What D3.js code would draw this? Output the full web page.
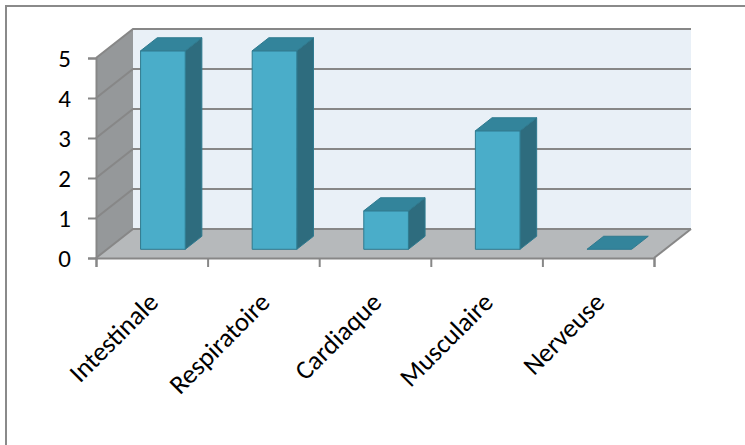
<!DOCTYPE html>
<html>
<head>
<meta charset="utf-8">
<script src="https://cdn.jsdelivr.net/npm/d3@7"></script>
<style>
  html, body { margin: 0; padding: 0; background: #ffffff; }
  svg { display: block; }
  text { font-family: Carlito, Calibri, Lato, sans-serif; fill: #000; }
</style>
</head>
<body>
<svg id="chart" width="745" height="445"></svg>
<script>
// Number of cases per category
const categories = ["Intestinale", "Respiratoire", "Cardiaque", "Musculaire", "Nerveuse"];
const values = [5, 5, 1, 3, 0];
const yTicks = [0, 1, 2, 3, 4, 5];

const svg = d3.select("#chart");

// Front plane of the 3D box and the depth offset to the back wall
const front = { left: 96, right: 654, bottom: 258, top: 58 };
const depthDX = 37, depthDY = -29;

const x = d3.scaleBand()
  .domain(categories)
  .range([front.left, front.right])
  .paddingInner(0.6)
  .paddingOuter(0.3);

const xEdge = d3.scaleLinear()
  .domain([0, categories.length])
  .range([front.left, front.right]);

const y = d3.scaleLinear()
  .domain([0, 5])
  .range([front.bottom, front.top]);

// project a point on the front plane back by a depth fraction d (0..1)
const P = (px, py, d) => [px + d * depthDX, py + d * depthDY];
const poly = pts => "M" + pts.map(p => p.join(",")).join("L") + "Z";

// outer frame
svg.append("rect")
  .attr("x", 6).attr("y", 6)
  .attr("width", 760).attr("height", 460)
  .attr("fill", "none")
  .attr("stroke", "#8a8a8a")
  .attr("stroke-width", 2);

const y0 = y(0), yMax = y(5);

// back wall
svg.append("path")
  .attr("d", poly([P(front.left, yMax, 1), P(front.right, yMax, 1), P(front.right, y0, 1), P(front.left, y0, 1)]))
  .attr("fill", "#e9f0f7");

// side wall
svg.append("path")
  .attr("d", poly([[front.left, yMax], P(front.left, yMax, 1), P(front.left, y0, 1), [front.left, y0]]))
  .attr("fill", "#95989a");

// floor
svg.append("path")
  .attr("d", poly([[front.left, y0], [front.right, y0], P(front.right, y0, 1), P(front.left, y0, 1)]))
  .attr("fill", "#b6b9bb");

// gridlines on side wall and back wall
const grid = svg.append("g")
  .attr("stroke", "#878787")
  .attr("stroke-width", 2)
  .attr("fill", "none");

yTicks.forEach(t => {
  const a = [front.left, y(t)], b = P(front.left, y(t), 1), c = P(front.right, y(t), 1);
  grid.append("path").attr("d", "M" + a + "L" + b + "L" + c);
});
// right edge of the floor
grid.append("path").attr("d", "M" + [front.right, y0] + "L" + P(front.right, y0, 1));

// y axis (front-left edge)
const yAxis = d3.axisLeft(y)
  .tickValues(yTicks)
  .tickSize(8)
  .tickPadding(17)
  .tickFormat(d3.format("d"));

const gy = svg.append("g")
  .attr("transform", `translate(${front.left},0)`)
  .call(yAxis);
gy.select(".domain").attr("stroke", "#878787").attr("stroke-width", 2);
gy.selectAll(".tick line").attr("stroke", "#878787").attr("stroke-width", 2);
gy.selectAll(".tick text")
  .attr("font-size", 25)
  .attr("font-family", "Carlito, Calibri, Lato, sans-serif")
  .attr("fill", "#000");

// x axis (front-bottom edge), ticks between categories
const xAxis = d3.axisBottom(xEdge)
  .tickValues(d3.range(categories.length + 1))
  .tickSize(9)
  .tickFormat("");
const gx = svg.append("g")
  .attr("transform", `translate(0,${y0})`)
  .call(xAxis);
gx.select(".domain").attr("stroke", "#878787").attr("stroke-width", 2);
gx.selectAll(".tick line").attr("stroke", "#878787").attr("stroke-width", 2);

// category labels, rotated
svg.append("g").selectAll("text")
  .data(categories)
  .join("text")
  .attr("transform", d => `translate(${x(d) + x.bandwidth() / 2 + 8},${y0 + 46}) rotate(-45)`)
  .attr("text-anchor", "end")
  .attr("font-size", 26.5)
  .text(d => d);

// 3D bars
const dFront = 0.3, dBack = 0.75;
const bars = svg.append("g");
categories.forEach((c, i) => {
  const v = values[i];
  const xl = x(c), xr = x(c) + x.bandwidth();
  const yt = y(v) + 1.5 * (v > 0), yb = y(0);
  const g = bars.append("g")
    .attr("stroke", "#2f7a8f")
    .attr("stroke-width", 1)
    .attr("stroke-linejoin", "round");
  if (v > 0) {
    // right side
    g.append("path")
      .attr("d", poly([P(xr, yt, dFront), P(xr, yt, dBack), P(xr, yb, dBack), P(xr, yb, dFront)]))
      .attr("fill", "#2e6c7e");
    // front face
    g.append("path")
      .attr("d", poly([P(xl, yt, dFront), P(xr, yt, dFront), P(xr, yb, dFront), P(xl, yb, dFront)]))
      .attr("fill", "#4aadc9");
  }
  // top face
  g.append("path")
    .attr("d", poly([P(xl, yt, dFront), P(xr, yt, dFront), P(xr, yt, dBack), P(xl, yt, dBack)]))
    .attr("fill", "#33849b");
});
</script>
</body>
</html>
